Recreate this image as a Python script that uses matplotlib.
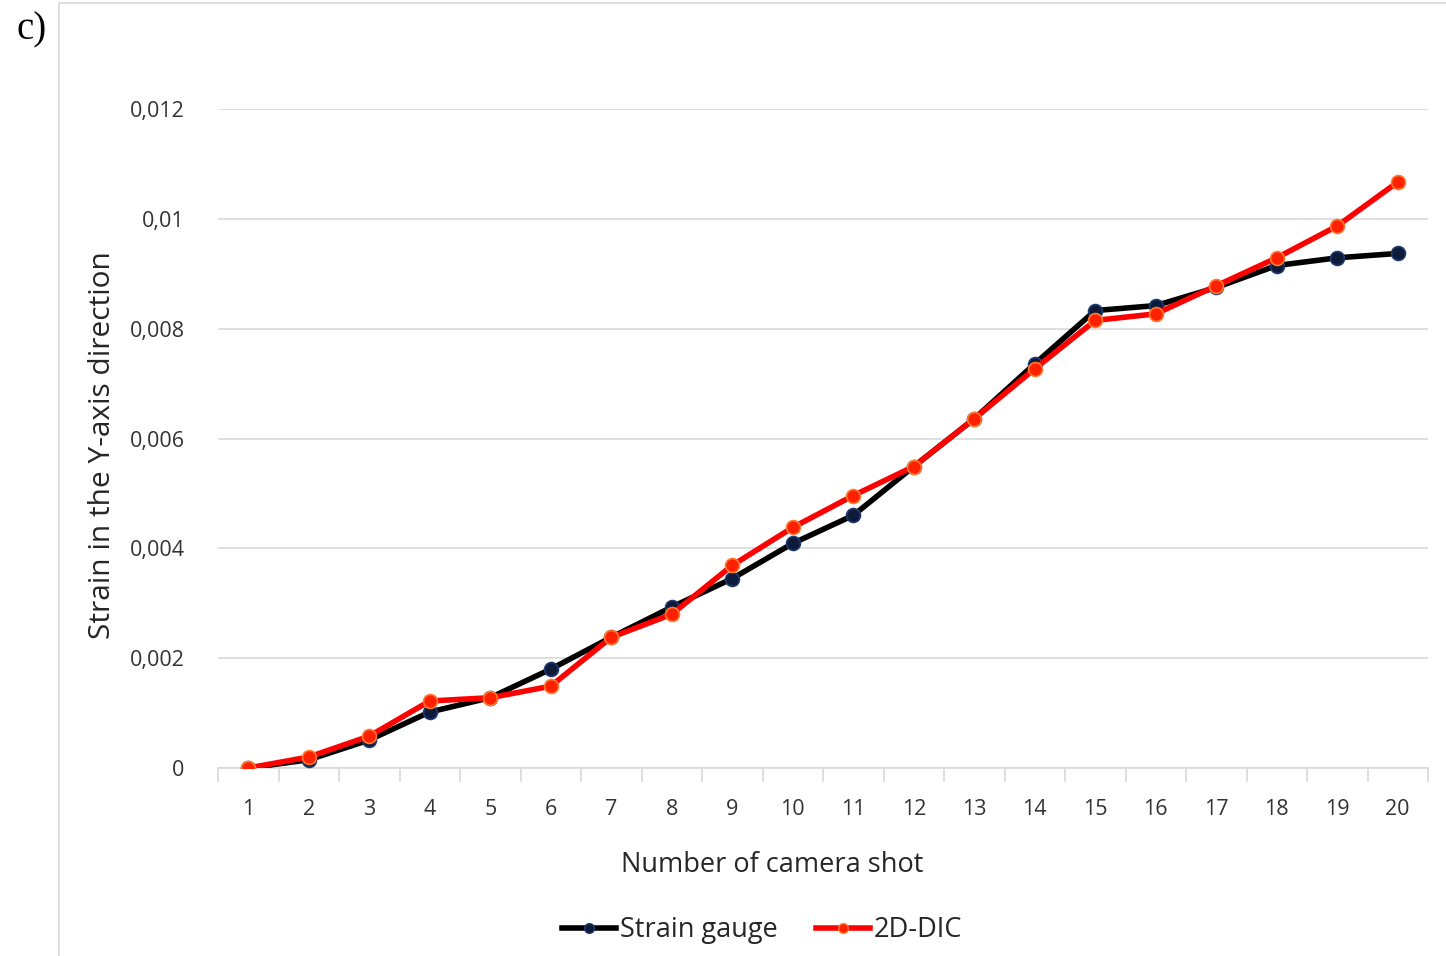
import matplotlib
matplotlib.use("Agg")
import matplotlib.pyplot as plt
from matplotlib.patches import Rectangle
from matplotlib.lines import Line2D

shots = list(range(1, 21))
strain_gauge = [0.0, 0.00015, 0.00051, 0.00102, 0.00128, 0.0018, 0.00238, 0.00293, 0.00345, 0.00409,
                0.0046, 0.00549, 0.00636, 0.00736, 0.00833, 0.00842, 0.00875, 0.00915, 0.00929, 0.00937]
dic_2d = [0.0, 0.0002, 0.00058, 0.00122, 0.00128, 0.00149, 0.00238, 0.0028, 0.00369, 0.00438,
          0.00496, 0.00549, 0.00636, 0.00727, 0.00815, 0.00827, 0.00878, 0.00929, 0.00987, 0.01067]
y_ticks = [0, 0.002, 0.004, 0.006, 0.008, 0.01, 0.012]
y_tick_labels = ["0", "0,002", "0,004", "0,006", "0,008", "0,01", "0,012"]

plt.rcParams['font.family'] = ['Open Sans', 'DejaVu Sans']

fig = plt.figure(figsize=(14.46, 9.56), dpi=100)
W, H = 1446, 956
ax = fig.add_axes([218 / W, 1 - 768 / H, (1428 - 218) / W, (768 - 109) / H])

# outer frame
fig.patches.append(Rectangle((59 / W, -0.01), 1.1, 1 - 3 / H + 0.01, transform=fig.transFigure,
                             fill=False, edgecolor='#d9d9d9', linewidth=1.2))
fig.text(16 / W, 1 - 30 / H, "c)", family='Liberation Serif', fontsize=28, va='center', ha='left')

xpos = [i for i in range(len(shots))]
ax.plot(xpos, strain_gauge, color='black', lw=4.0, marker='o', ms=10,
        markerfacecolor='#0d1a3a', markeredgecolor='#1f3a6e', markeredgewidth=1.2,
        label='Strain gauge', zorder=3, solid_joinstyle='round')
ax.plot(xpos, dic_2d, color='#ff0000', lw=4.0, marker='o', ms=10,
        markerfacecolor='#ff2000', markeredgecolor='#ff7a30', markeredgewidth=1.2,
        label='2D-DIC', zorder=4, solid_joinstyle='round')

ax.set_xlim(-0.5, len(shots) - 0.5)
ax.set_ylim(0, 0.012)
ax.set_yticks(y_ticks)
ax.set_yticklabels(y_tick_labels)
ax.set_xticks(xpos)
ax.set_xticklabels([str(s) for s in shots])
ax.set_xticks([i - 0.5 for i in range(len(shots) + 1)], minor=True)
ax.tick_params(axis='x', which='major', length=0, pad=22, labelsize=15.5, labelcolor='#333333')
ax.tick_params(axis='x', which='minor', length=10, color='#d9d9d9', width=1.2)
ax.tick_params(axis='y', length=0, pad=24, labelsize=15.5, labelcolor='#333333')
ax.grid(axis='y', color='#d9d9d9', lw=1.2)
ax.set_axisbelow(True)
for s in ['top', 'right', 'left']:
    ax.spines[s].set_visible(False)
ax.spines['bottom'].set_color('#d9d9d9')
ax.spines['bottom'].set_linewidth(1.2)
ax.spines['bottom'].set_zorder(0.5)

fig.text(772 / W, 1 - 865 / H, "Number of camera shot", fontsize=19.5, color='#262626', ha='center', va='center')
fig.text(103 / W, 1 - 445 / H, "Strain in the Y-axis direction", fontsize=21.5, color='#262626',
         ha='center', va='center', rotation=90)

handles = [Line2D([], [], color='black', lw=4.0, marker='o', ms=7, markerfacecolor='#0d1a3a',
                  markeredgecolor='#1f3a6e'),
           Line2D([], [], color='#ff0000', lw=4.0, marker='o', ms=7, markerfacecolor='#ff2000',
                  markeredgecolor='#ff7a30')]
fig.legend(handles, ['Strain gauge', '2D-DIC'], loc='center', bbox_to_anchor=(762 / W, 1 - 930 / H),
           ncol=2, frameon=False, fontsize=19.5, handlelength=2.0, handletextpad=0.15, columnspacing=1.4,
           labelcolor='#262626')

fig.savefig("out.png", dpi=100)
